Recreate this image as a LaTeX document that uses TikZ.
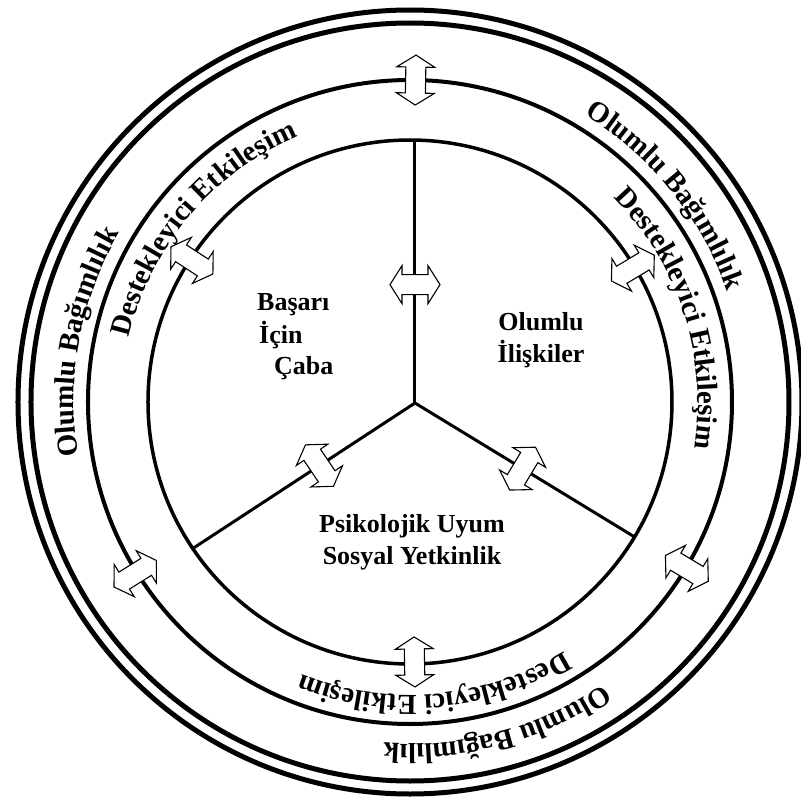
\documentclass[tikz,border=0pt]{standalone}
\usepackage{fontspec}
\setmainfont{Liberation Serif}
\usetikzlibrary{decorations.text,calc}
\newcommand\ringtext[3]{%
  \path[decorate,decoration={text along path,text align=center,
    text={|\bfseries\fontsize{29}{29}\selectfont|#3}}]
    (#1+40:#2) arc[start angle=#1+40,end angle=#1-40,radius=#2];}
\begin{document}
\begin{tikzpicture}[x=1pt,y=1pt,
  outerring/.style={draw=black,line width=5pt},
  midring/.style={draw=black,line width=4pt},
  innerring/.style={draw=black,line width=3.5pt},
  radial/.style={draw=black,line width=3pt},
  lbl/.style={font=\bfseries\fontsize{26}{32}\selectfont,inner sep=0pt},
  dblarrow/.pic={\filldraw[fill=white,draw=black,line width=1.1pt,line join=miter]
    (-25,0) -- (-13,19) -- (-13,10) -- (13,10) -- (13,19) -- (25,0)
    -- (13,-19) -- (13,-10) -- (-13,-10) -- (-13,-19) -- cycle;}
]
\path[use as bounding box,fill=white] (-410,-402) rectangle (391,402);
\clip (-410,-402) rectangle (391,402);

\coordinate (O) at (0,0);
\coordinate (J) at (5,-1);
\coordinate (T) at (5,262);
\coordinate (LL) at (214:262);
\coordinate (LR) at (-31:262);

% circles
\draw[outerring] (O) circle[radius=392];
\draw[outerring] (O) circle[radius=379];
\draw[midring] (O) circle[radius=322];
\draw[innerring] (O) circle[radius=262];

% radial lines
\draw[radial] (J) -- (T);
\draw[radial] (J) -- (LL);
\draw[radial] (J) -- (LR);

% arrows on circles
\path (89:322) pic[rotate=89] {dblarrow};
\path (212:324) pic[rotate=212] {dblarrow};
\path (-31:323) pic[rotate=-31] {dblarrow};
\path (147:260) pic[rotate=147] {dblarrow};
\path (31:260) pic[rotate=31] {dblarrow};
\path (271:260) pic[rotate=271] {dblarrow};

% arrows on radial lines
\path ($(J)!0.45!(T)$) pic {dblarrow};
\path ($(J)!0.43!(LL)$) pic[rotate=124] {dblarrow};
\path ($(J)!0.49!(LR)$) pic[rotate=59] {dblarrow};

% ring texts
\ringtext{169.5}{336}{Olumlu Bağımlılık}
\ringtext{39}{336}{Olumlu Bağımlılık}
\ringtext{285}{342}{Olumlu Bağımlılık}
\ringtext{140}{288}{Destekleyici Etkileşim}
\ringtext{18}{288}{Destekleyici Etkileşim}
\ringtext{275}{293}{Destekleyici Etkileşim}

% inner labels
\node[lbl,anchor=base west] (b1) at (-153,92) {Başarı};
\node[lbl,anchor=base west] (b2) at (-151,59) {İçin};
\node[lbl,anchor=base west] (b3) at (-136,28) {Çaba};
\node[lbl,anchor=base] (o1) at (131,72) {Olumlu};
\node[lbl,anchor=base] (o2) at (131,40) {İlişkiler};
\node[lbl,anchor=base] (p1) at (2,-130) {Psikolojik Uyum};
\node[lbl,anchor=base] (p2) at (2,-162) {Sosyal Yetkinlik};
\end{tikzpicture}
\end{document}
